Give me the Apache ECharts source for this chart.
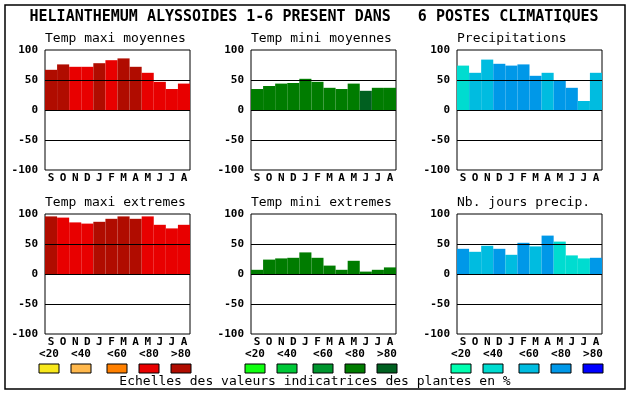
<!DOCTYPE html>
<html><head><meta charset="utf-8">
<script src="https://cdn.jsdelivr.net/npm/echarts@6/dist/echarts.min.js"></script>
<style>html,body{margin:0;padding:0;background:#fff}#c{width:630px;height:394px}</style>
</head><body><div id="c"></div>
<script>
const months = ['S','O','N','D','J','F','M','A','M','J','J','A'];
const yTicks = [-100,-50,0,50,100];
const classLabels = ['<20','<40','<60','<80','>80'];
const redScale = ['#f8e81c','#ffb84c','#ff8000','#e80000','#b00c00'];
const greenScale = ['#10ff10','#00c838','#00962e','#007c00','#006020'];
const blueScale = ['#00ffb0','#00dcd0','#00bce0','#0098e8','#0000ff'];

const tempMaxiMoy = [67,76,72,72,78,83,86,72,62,47,35,44];
const tempMaxiMoyCls = [4,4,3,3,4,3,4,4,3,3,3,3];
const tempMiniMoy = [35,40,44,45,52,47,37,35,44,32,37,37];
const tempMiniMoyCls = [3,3,3,3,3,3,3,3,3,4,3,3];
const precip = [74,62,84,77,74,76,57,62,49,37,15,62];
const precipCls = [1,2,2,3,3,3,3,2,3,3,2,2];
const tempMaxiExt = [96,94,86,84,87,92,96,92,96,82,76,82];
const tempMaxiExtCls = [4,3,3,3,4,4,4,4,3,3,3,3];
const tempMiniExt = [7,24,26,27,36,27,14,7,22,4,7,11];
const tempMiniExtCls = [3,3,3,3,3,3,3,3,3,3,3,3];
const nbJours = [42,37,47,42,32,52,46,64,54,31,26,27];
const nbJoursCls = [3,2,2,3,2,3,2,3,1,1,1,3];

const panels = [
  {title:'Temp maxi moyennes', v:tempMaxiMoy, c:tempMaxiMoyCls, s:redScale, col:0, row:0},
  {title:'Temp mini moyennes', v:tempMiniMoy, c:tempMiniMoyCls, s:greenScale, col:1, row:0},
  {title:'Precipitations', v:precip, c:precipCls, s:blueScale, col:2, row:0},
  {title:'Temp maxi extremes', v:tempMaxiExt, c:tempMaxiExtCls, s:redScale, col:0, row:1},
  {title:'Temp mini extremes', v:tempMiniExt, c:tempMiniExtCls, s:greenScale, col:1, row:1},
  {title:'Nb. jours precip.', v:nbJours, c:nbJoursCls, s:blueScale, col:2, row:1}
];

const FONT = 'DejaVu Sans Mono';
const lefts = [45, 251, 457];
const tops = [50, 214];
const GW = 145, GH = 120;

const titles = [{text:'HELIANTHEMUM ALYSSOIDES 1-6 PRESENT DANS   6 POSTES CLIMATIQUES', left:314, textAlign:'center', top:10, padding:0,
  textStyle:{fontFamily:FONT, fontSize:15, fontWeight:'bold', color:'#000'}}];
const grids = [], xAxes = [], yAxes = [], series = [];
panels.forEach((p,i)=>{
  const L = lefts[p.col], T = tops[p.row];
  titles.push({text:p.title, left:L, top:T-18, padding:0, textStyle:{fontFamily:FONT, fontSize:13, fontWeight:'normal', color:'#000'}});
  grids.push({left:L, top:T, width:GW, height:GH, show:true, borderColor:'#000', borderWidth:1, backgroundColor:'#fff'});
  xAxes.push({type:'category', gridIndex:i, data:months, axisLine:{show:false}, axisTick:{show:false},
    axisLabel:{margin:3, fontFamily:FONT, fontSize:11, fontWeight:'bold', color:'#000', interval:0}});
  yAxes.push({type:'value', gridIndex:i, min:yTicks[0], max:yTicks[yTicks.length-1], interval:50,
    axisLine:{show:false}, axisTick:{show:false}, splitLine:{show:false},
    axisLabel:{margin:7, fontFamily:FONT, fontSize:11, fontWeight:'bold', color:'#000'}});
  series.push({type:'bar', xAxisIndex:i, yAxisIndex:i, barWidth:'100%', barCategoryGap:0,
    data:p.v.map((v,k)=>({value:v, itemStyle:{color:p.s[p.c[k]]}})),
    markLine:{silent:true, symbol:'none', label:{show:false}, lineStyle:{color:'#000', width:1, type:'solid'},
      data:[{yAxis:50},{yAxis:0},{yAxis:-50}]}});
});

const graphic = [{type:'rect', shape:{x:5, y:5, width:620, height:384}, style:{fill:null, stroke:'#000', lineWidth:1.5}, z:-1}];
const offs = [0,32,68,100,132];
[redScale, greenScale, blueScale].forEach((sc,j)=>{
  offs.forEach((o,k)=>{
    const x = lefts[j]-6+o;
    graphic.push({type:'rect', shape:{x:x, y:364, width:20, height:9}, style:{fill:sc[k], stroke:'#000', lineWidth:1}});
    graphic.push({type:'text', x:x+10, y:354, style:{text:classLabels[k], font:'bold 11px "'+FONT+'"', fill:'#000', textAlign:'center', textVerticalAlign:'middle'}});
  });
});
graphic.push({type:'text', x:315, y:382, style:{text:'Echelles des valeurs indicatrices des plantes en %', font:'13px "'+FONT+'"', fill:'#000', textAlign:'center', textVerticalAlign:'middle'}});

const chart = echarts.init(document.getElementById('c'));
chart.setOption({animation:false, backgroundColor:'#fff', title:titles, grid:grids, xAxis:xAxes, yAxis:yAxes, series:series, graphic:graphic});
</script></body></html>
